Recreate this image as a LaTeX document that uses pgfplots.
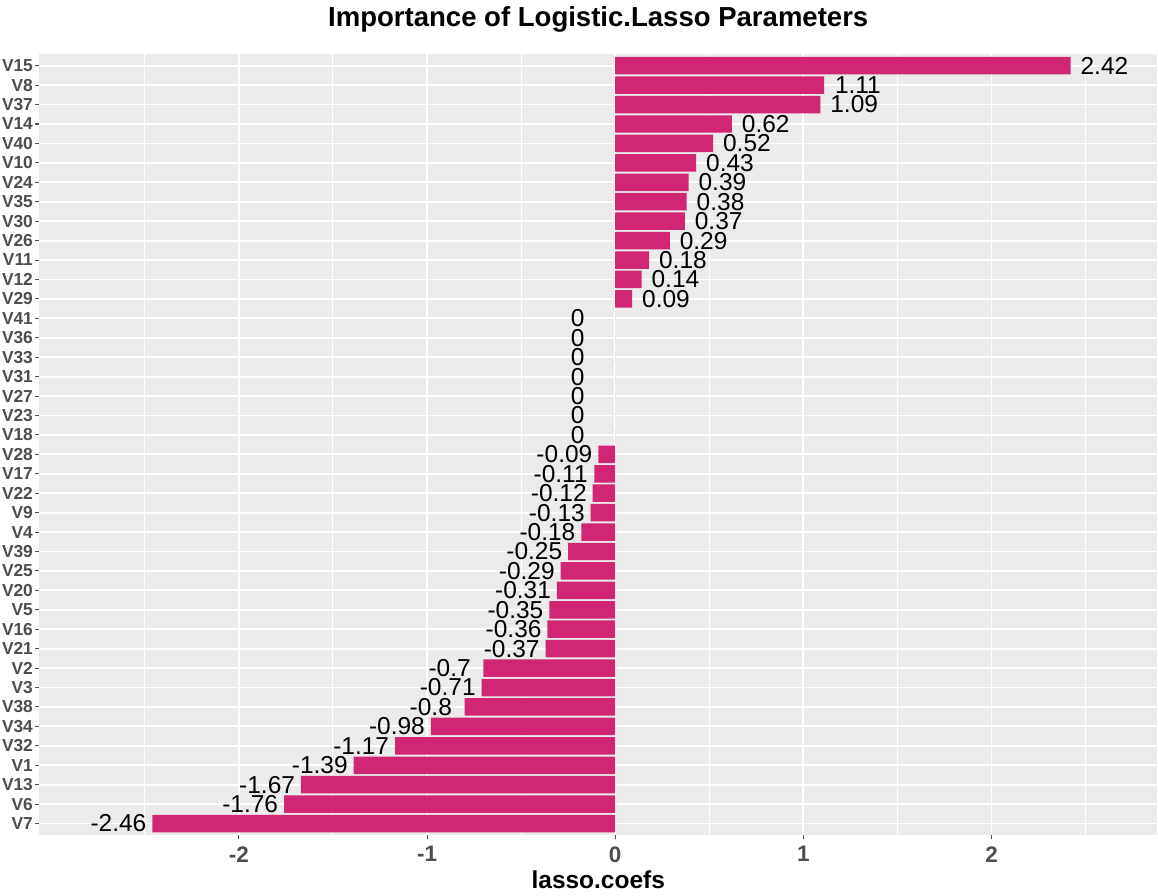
\documentclass[border=0pt]{standalone}
\usepackage{pgfplots}
\pgfplotsset{compat=1.18}
\usepackage{pgfplotstable}
\usepackage{fontspec}
\setmainfont{Liberation Sans}
\definecolor{barc}{RGB}{208,38,116}
\definecolor{panel}{RGB}{235,235,235}
\definecolor{tickc}{RGB}{77,77,77}
\pgfplotstableread{
idx val lx lab
0 -2.46 -2.64 -2.46
1 -1.76 -1.94 -1.76
2 -1.67 -1.85 -1.67
3 -1.39 -1.57 -1.39
4 -1.17 -1.35 -1.17
5 -0.98 -1.16 -0.98
6 -0.8 -0.98 -0.8
7 -0.71 -0.89 -0.71
8 -0.7 -0.88 -0.7
9 -0.37 -0.55 -0.37
10 -0.36 -0.54 -0.36
11 -0.35 -0.53 -0.35
12 -0.31 -0.49 -0.31
13 -0.29 -0.47 -0.29
14 -0.25 -0.43 -0.25
15 -0.18 -0.36 -0.18
16 -0.13 -0.31 -0.13
17 -0.12 -0.30 -0.12
18 -0.11 -0.29 -0.11
19 -0.09 -0.27 -0.09
20 0 -0.2 0
21 0 -0.2 0
22 0 -0.2 0
23 0 -0.2 0
24 0 -0.2 0
25 0 -0.2 0
26 0 -0.2 0
27 0.09 0.27 0.09
28 0.14 0.32 0.14
29 0.18 0.36 0.18
30 0.29 0.47 0.29
31 0.37 0.55 0.37
32 0.38 0.56 0.38
33 0.39 0.57 0.39
34 0.43 0.61 0.43
35 0.52 0.70 0.52
36 0.62 0.80 0.62
37 1.09 1.27 1.09
38 1.11 1.29 1.11
39 2.42 2.60 2.42
}\data
\begin{document}
\begin{tikzpicture}
\begin{axis}[
  scale only axis, width=548pt, height=383pt,
  xmin=-3.06, xmax=2.88, ymin=-0.6, ymax=39.6,
  axis background/.style={fill=panel}, axis line style={draw=none},
  xtick={-2,-1,0,1,2}, minor xtick={-2.5,-1.5,-0.5,0.5,1.5,2.5},
  ytick={0,...,39}, tick pos=left,
  yticklabels={V7,V6,V13,V1,V32,V34,V38,V3,V2,V21,V16,V5,V20,V25,V39,V4,V9,V22,V17,V28,V18,V23,V27,V31,V33,V36,V41,V29,V12,V11,V26,V30,V35,V24,V10,V40,V14,V37,V8,V15},
  grid=both, major grid style={white, line width=0.9pt}, minor grid style={white, line width=0.45pt},
  tick align=outside, major tick length=2pt, minor tick length=0pt,
  tick style={tickc, line width=0.5pt},
  /pgf/number format/assume math mode=true,
  xticklabel style={font=\fontsize{11}{12}\selectfont\bfseries, text=tickc},
  yticklabel style={font=\fontsize{8.5}{9}\selectfont\bfseries, text=tickc, inner sep=1pt},
  xlabel={\textbf{lasso.coefs}}, xlabel style={font=\fontsize{12}{13}\selectfont, yshift=3pt},
  title={\textbf{Importance of Logistic.Lasso Parameters}}, title style={font=\fontsize{13.5}{14}\selectfont, yshift=1pt},
  clip=false,
]
\addplot[xbar, bar width=0.9, bar shift=0pt, fill=barc, draw=none] table[x=val,y=idx]{\data};
\addplot[draw=none, mark=none, nodes near coords, point meta=explicit symbolic,
  every node near coord/.append style={anchor=center, font=\fontsize{12}{12}\selectfont, inner sep=0pt}]
  table[x=lx,y=idx,meta=lab]{\data};
\end{axis}
\end{tikzpicture}
\end{document}
